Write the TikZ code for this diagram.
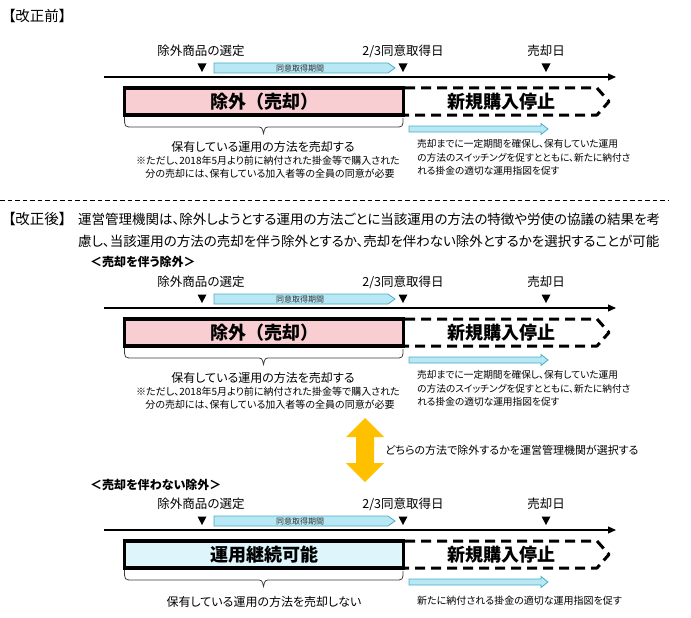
\documentclass[tikz,border=0pt]{standalone}
\usepackage{fontspec}
\setmainfont{Noto Sans CJK JP}[RawFeature=+palt]
\newfontfamily\jpnp{Noto Sans CJK JP}
\usetikzlibrary{arrows.meta}
\definecolor{pinkfill}{RGB}{248,206,210}
\definecolor{cyanfill}{RGB}{221,245,251}
\definecolor{barfill}{RGB}{183,232,244}
\definecolor{barline}{RGB}{75,172,198}
\definecolor{orangeA}{RGB}{255,192,0}
\definecolor{bracegray}{RGB}{60,60,60}
\newcommand\fsz[1]{\fontsize{#1}{#1}\selectfont}
\tikzset{
  lbl/.style={inner sep=0pt, font=\fsz{12.5}},
  barlbl/.style={inner sep=0pt, font=\fsz{8}, text=black!80},
  bartext/.style={fill=barfill, draw=barline, line width=0.8pt},
  tipmark/.style={fill=black},
  tline/.style={line width=1.1pt, -{Triangle[length=8pt,width=7pt]}},
  dashbox/.style={line width=3pt, dash pattern=on 10pt off 6pt, line join=round},
  boxtxt/.style={inner sep=0pt, font=\jpnp\bfseries\fsz{18}},
  mainbox/.style={draw, line width=3.5pt, minimum width=279pt, minimum height=27pt, inner sep=0pt, font=\jpnp\bfseries\fsz{18}},
  bracepath/.style={draw=bracegray, line width=0.8pt},
  lightarrow/.style={fill=barfill, draw=barline, line width=0.8pt},
  midtxt/.style={inner sep=0pt, font=\fsz{12}},
  notetxt/.style={inner sep=0pt, font=\fsz{10}},
  righttxt/.style={inner sep=0pt, font=\fontsize{9.7}{13.5}\selectfont, align=left, anchor=north west},
  headtxt/.style={inner sep=0pt, font=\fsz{13.5}, anchor=west},
  headtag/.style={inner sep=0pt, font=\fsz{14.5}, anchor=west},
  subhead/.style={inner sep=0pt, font=\bfseries\fsz{12}, anchor=west},
}
% common timeline section
\newcommand\tlsec[2]{%
\begin{scope}[yshift=-#2pt]
  \node[lbl] (#1sel) at (201,51) {除外商品の選定};
  \node[lbl] (#1agr) at (403,51) {2/3同意取得日};
  \node[lbl] (#1sale) at (546,51) {売却日};
  \foreach \x in {202,403,546} \fill[tipmark] (\x-4.5,63.5) -- (\x+4.5,63.5) -- (\x,72) -- cycle;
  \draw[bartext] (214,63) -- (388,63) -- (395,68) -- (388,73) -- (214,73) -- cycle;
  \node[barlbl] (#1period) at (300,68) {同意取得期間};
  \coordinate (#1t0) at (104,77);
  \coordinate (#1t1) at (616,77);
  \draw[tline] (#1t0) -- (#1t1);
  \draw[dashbox] (405,88) -- (597,88) -- (609,101.5) -- (597,115) -- (405,115);
  \node[boxtxt] (#1stop) at (501,101.5) {新規購入停止};
  \draw[bracepath] (124.5,117) .. controls (124.5,127) .. (133,127) -- (256,127)
     .. controls (262,127) .. (263.5,133.5) .. controls (265,127) .. (271,127) -- (395,127)
     .. controls (403,127) .. (403,118);
  \draw[lightarrow] (409,126) -- (541,126) -- (541,123.5) -- (548,129) -- (541,134.5) -- (541,132) -- (409,132) -- cycle;
\end{scope}}
\newcommand\selltxt[2]{%
\begin{scope}[yshift=-#2pt]
  \node[midtxt] (#1sell) at (263,147) {保有している運用の方法を売却する};
  \node[notetxt] (#1note1) at (268,161) {※ただし、2018年5月より前に納付された掛金等で購入された};
  \node[notetxt] (#1note2) at (270,174) {分の売却には、保有している加入者等の全員の同意が必要};
  \node[righttxt] (#1right) at (417,139.5) {売却までに一定期間を確保し、保有していた運用\\の方法のスイッチングを促すとともに、新たに納付さ\\れる掛金の適切な運用指図を促す};
\end{scope}}
\begin{document}
\begin{tikzpicture}[x=1pt,y=-1pt]
\useasboundingbox (0,0) rectangle (691,618);
% before
\node[headtag] (before) at (8,16) {【改正前】};
\tlsec{a}{0}
\node[mainbox, fill=pinkfill] (abox) at (264,101.5) {除外（売却）};
\selltxt{a}{0}
% separator
\coordinate (sep0) at (0,200);
\coordinate (sep1) at (668,200);
\draw[line width=0.8pt, dash pattern=on 4.5pt off 3pt] (sep0) -- (sep1);
% after
\node[headtag] (after) at (8,219) {【改正後】};
\node[headtxt] (afterl1) at (78,219) {運営管理機関は、除外しようとする運用の方法ごとに当該運用の方法の特徴や労使の協議の結果を考};
\node[headtxt] (afterl2) at (78,241) {慮し、当該運用の方法の売却を伴う除外とするか、売却を伴わない除外とするかを選択することが可能};
\node[subhead] (withsale) at (90,262) {＜売却を伴う除外＞};
\tlsec{b}{231}
\node[mainbox, fill=pinkfill] (bbox) at (264,332.5) {除外（売却）};
\selltxt{b}{231}
% choice arrow
\draw[fill=orangeA, draw=none] (365,418) -- (384,437) -- (374,437) -- (374,463) -- (384,463) -- (365,482) -- (346,463) -- (356,463) -- (356,437) -- (346,437) -- cycle;
\node[inner sep=0pt, font=\fsz{11}, anchor=west] (choice) at (385,450) {どちらの方法で除外するかを運営管理機関が選択する};
% without sale
\node[subhead] (nosale) at (90,485) {＜売却を伴わない除外＞};
\tlsec{c}{453}
\node[mainbox, fill=cyanfill] (cbox) at (264,554.5) {運用継続可能};
\node[midtxt] (csell) at (264,602) {保有している運用の方法を売却しない};
\node[notetxt, anchor=west] (cright) at (417,601) {新たに納付される掛金の適切な運用指図を促す};
\end{tikzpicture}
\end{document}
